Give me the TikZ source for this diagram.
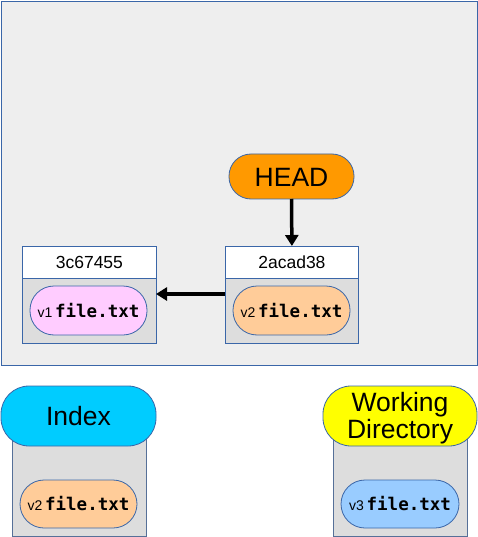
\documentclass[tikz,border=0pt]{standalone}
\usepackage{fontspec}
\setmainfont{Liberation Sans}
\newfontfamily\monob{DejaVu Sans Mono}
\usetikzlibrary{arrows.meta}
\definecolor{frameblue}{HTML}{3A66A8}
\definecolor{bgpanel}{HTML}{EEEEEE}
\definecolor{bodygray}{HTML}{DDDDDD}
\definecolor{headorange}{HTML}{FF9900}
\definecolor{blobpink}{HTML}{FFCCFF}
\definecolor{blobpeach}{HTML}{FFCC99}
\definecolor{blobblue}{HTML}{99CCFF}
\definecolor{idxcyan}{HTML}{00CCFF}
\definecolor{wdyellow}{HTML}{FFFF00}
\tikzset{
  panel/.style={draw=frameblue, fill=bgpanel, line width=0.8pt},
  hdr/.style={draw=frameblue, fill=white, line width=0.8pt, font=\fontsize{17.5}{20}\selectfont},
  bodybox/.style={draw=frameblue, fill=bodygray, line width=0.8pt},
  graybox/.style={draw=frameblue!60!gray, fill=bodygray, line width=0.6pt},
  pill/.style={draw=frameblue, line width=0.8pt, rounded corners=#1},
  ptr/.style={line width=3.5pt, -{Triangle[length=11pt,width=13pt]}},
}
\newcommand{\fname}{{\monob\bfseries\fontsize{17.5}{20}\selectfont file.txt}}
\newcommand{\vlab}[1]{{\fontsize{14}{16}\selectfont #1}}
\begin{document}
\begin{tikzpicture}[x=1pt,y=-1pt]
\useasboundingbox (0,0) rectangle (478,537);
% panel
\draw[panel] (1,1) rectangle (477,365);
% HEAD
\draw[pill=22pt, fill=headorange] (229,154) rectangle (354,199);
\node[font=\fontsize{26.5}{30}\selectfont] (head) at (291.5,177) {HEAD};
\coordinate (headb) at (291.5,199);
% commit 3c67455
\draw[bodybox] (22,278) rectangle (156,343);
\node[hdr, minimum width=134pt, minimum height=32pt, inner sep=0pt, anchor=north west] (c1) at (22,246) {3c67455};
\draw[pill=24pt, fill=blobpink] (30,286) rectangle (147,335);
\node[anchor=base] (b1) at (88.5,317) {\vlab{v1} \fname};
\coordinate (c1r) at (156,294);
% commit 2acad38
\draw[bodybox] (225,278) rectangle (358,343);
\node[hdr, minimum width=133pt, minimum height=32pt, inner sep=0pt, anchor=north west] (c2) at (225,246) {2acad38};
\draw[pill=24pt, fill=blobpeach] (233,286) rectangle (350,335);
\node[anchor=base] (b2) at (291.5,317) {\vlab{v2} \fname};
\coordinate (c2l) at (225,294);
% arrows
\draw[ptr] (headb) -- (c2.north);
\draw[ptr] (c2l) -- (c1r);
% Index
\draw[graybox] (12,420) rectangle (146,536);
\draw[pill=28pt, fill=idxcyan] (1,386) rectangle (156,446);
\node[font=\fontsize{26.5}{30}\selectfont] (idx) at (78.5,416) {Index};
\draw[pill=24pt, fill=blobpeach] (20,480) rectangle (137,528);
\node[anchor=base] (b3) at (78.5,510) {\vlab{v2} \fname};
% Working Directory
\draw[graybox] (333,420) rectangle (467,536);
\draw[pill=28pt, fill=wdyellow] (323,386) rectangle (477,446);
\node[font=\fontsize{26.5}{27.5}\selectfont, align=center] (wd) at (400,418) {Working\\Directory};
\draw[pill=24pt, fill=blobblue] (341,480) rectangle (459,528);
\node[anchor=base] (b4) at (400,510) {\vlab{v3} \fname};
\end{tikzpicture}
\end{document}
